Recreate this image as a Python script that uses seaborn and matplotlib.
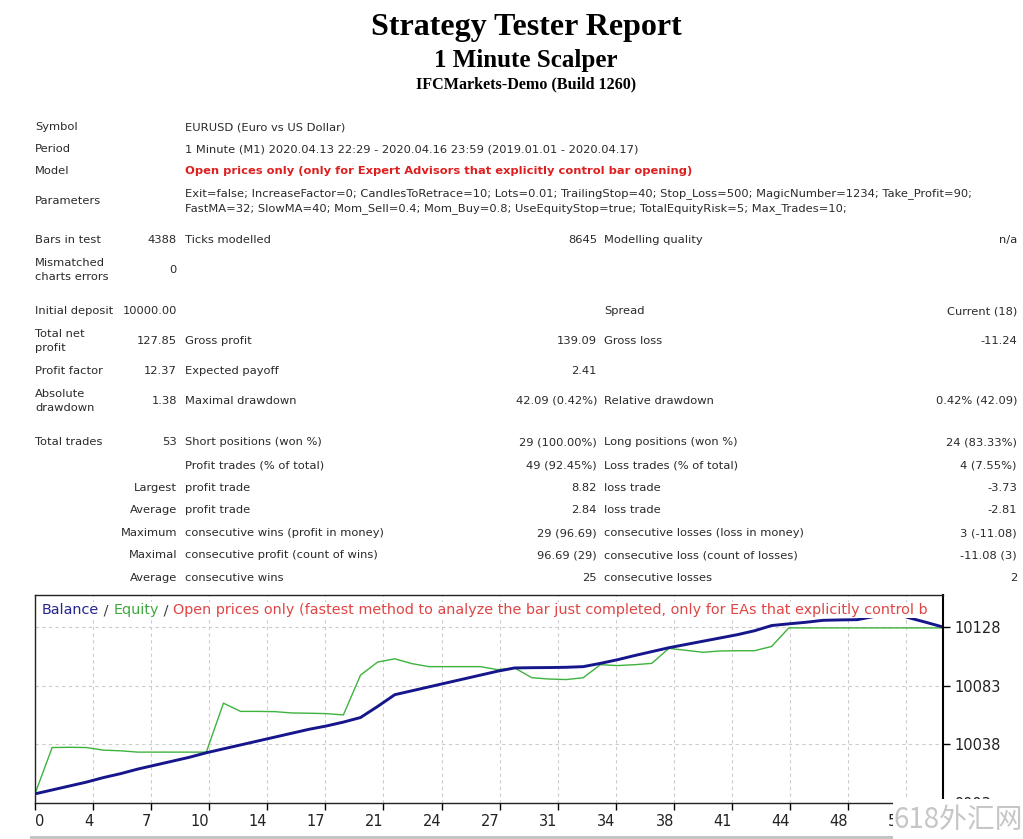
import matplotlib
matplotlib.use('Agg')
import matplotlib.pyplot as plt
import seaborn as sns
import numpy as np
import pandas as pd
from matplotlib.patches import Rectangle
from matplotlib.transforms import IdentityTransform

# balance / equity after each trade
trades = list(range(54))
balance = [10000, 10003, 10006, 10009, 10012.5, 10015.5, 10019, 10022, 10025, 10028,
           10031.5, 10034.5, 10037.5, 10040.5, 10043.5, 10046.5, 10049.5, 10052, 10055, 10058.5,
           10067, 10076, 10079, 10082, 10085, 10088, 10091, 10094, 10096.5, 10096.7,
           10096.8, 10097, 10097.5, 10100, 10102.8, 10106, 10109, 10112, 10114.5, 10117,
           10119.5, 10122, 10125, 10129, 10130.3, 10131.5, 10133, 10133.3, 10133.5, 10136,
           10139, 10135, 10131.5, 10127.85]
equity = [10000, 10035.5, 10035.7, 10035.5, 10033.5, 10033, 10032, 10032, 10032, 10032,
          10032, 10069.5, 10063.2, 10063.2, 10063, 10062, 10061.8, 10061.5, 10060.5, 10091,
          10101, 10103.5, 10099.8, 10097.5, 10097.5, 10097.5, 10097.5, 10095.2, 10096.5, 10089,
          10088, 10087.6, 10089, 10099, 10098.3, 10099, 10100, 10111.5, 10110, 10108.5,
          10109.5, 10109.7, 10109.7, 10113, 10127.2, 10127.2, 10127.2, 10127.2, 10127.2, 10127.2,
          10127.2, 10127.2, 10127.2, 10127.2]
xtick_labels = ['0', '4', '7', '10', '14', '17', '21', '24', '27', '31', '34', '38', '41', '44', '48', '51']
ytick_values = [9993, 10038, 10083, 10128]

# report header + info block
header = ['Strategy Tester Report', '1 Minute Scalper', 'IFCMarkets-Demo (Build 1260)']
info_labels = ['Symbol', 'Period', 'Model', 'Parameters']
info_values = [
    'EURUSD (Euro vs US Dollar)',
    '1 Minute (M1) 2020.04.13 22:29 - 2020.04.16 23:59 (2019.01.01 - 2020.04.17)',
    'Open prices only (only for Expert Advisors that explicitly control bar opening)',
    'Exit=false; IncreaseFactor=0; CandlesToRetrace=10; Lots=0.01; TrailingStop=40; Stop_Loss=500; '
    'MagicNumber=1234; Take_Profit=90;\nFastMA=32; SlowMA=40; Mom_Sell=0.4; Mom_Buy=0.8; '
    'UseEquityStop=true; TotalEquityRisk=5; Max_Trades=10;',
]

# stats table: label, value, label, value, label, value
stats = [
    ['Bars in test', '4388', 'Ticks modelled', '8645', 'Modelling quality', 'n/a'],
    ['Mismatched\ncharts errors', '0', '', '', '', ''],
    ['Initial deposit', '10000.00', '', '', 'Spread', 'Current (18)'],
    ['Total net\nprofit', '127.85', 'Gross profit', '139.09', 'Gross loss', '-11.24'],
    ['Profit factor', '12.37', 'Expected payoff', '2.41', '', ''],
    ['Absolute\ndrawdown', '1.38', 'Maximal drawdown', '42.09 (0.42%)', 'Relative drawdown', '0.42% (42.09)'],
    ['Total trades', '53', 'Short positions (won %)', '29 (100.00%)', 'Long positions (won %)', '24 (83.33%)'],
    ['', '', 'Profit trades (% of total)', '49 (92.45%)', 'Loss trades (% of total)', '4 (7.55%)'],
    ['', 'Largest', 'profit trade', '8.82', 'loss trade', '-3.73'],
    ['', 'Average', 'profit trade', '2.84', 'loss trade', '-2.81'],
    ['', 'Maximum', 'consecutive wins (profit in money)', '29 (96.69)', 'consecutive losses (loss in money)', '3 (-11.08)'],
    ['', 'Maximal', 'consecutive profit (count of wins)', '96.69 (29)', 'consecutive loss (count of losses)', '-11.08 (3)'],
    ['', 'Average', 'consecutive wins', '25', 'consecutive losses', '2'],
]
info_y = [127, 149, 171, 201]
stats_y = [240, 270, 311, 341, 371, 401, 442, 465, 488, 510, 533, 555, 578]
col_x = [35, 177, 185, 597, 604, 1017]
col_ha = ['left', 'right', 'left', 'right', 'left', 'right']

sns.set_theme(style='white')
plt.rcParams['font.family'] = ['DejaVu Sans']

W, H = 1023, 839
fig = plt.figure(figsize=(W / 100, H / 100), dpi=100)
fig.patch.set_facecolor('white')
TXT = '#2a2a2a'
TFONT = 8.25


def put(x, y, s, ha='left', size=TFONT, **kw):
    kw.setdefault('color', TXT)
    fig.text(x / W, 1 - y / H, s, ha=ha, va='center', fontsize=size, **kw)


serif = dict(family='Liberation Serif', weight='bold', color='black')
put(526, 27, header[0], ha='center', size=23, **serif)
put(526, 60, header[1], ha='center', size=18, **serif)
put(526, 84, header[2], ha='center', size=11.6, **serif)

for lab, val, y in zip(info_labels, info_values, info_y):
    put(35, y, lab)
    if lab == 'Model':
        put(185, y, val, color='#dd1f1f', weight='bold')
    else:
        put(185, y, val, linespacing=1.45)

for row, y in zip(stats, stats_y):
    for s, x, ha in zip(row, col_x, col_ha):
        if s:
            put(x, y, s, ha=ha, linespacing=1.5)

# ---- balance / equity graph
ax = fig.add_axes([35 / W, 1 - 803 / H, 908 / W, 208 / H])
df = pd.DataFrame({'trade': trades, 'balance': balance, 'equity': equity})
sns.lineplot(data=df, x='trade', y='equity', color='#3db33d', lw=1.0, ax=ax)
sns.lineplot(data=df, x='trade', y='balance', color='#16168c', lw=2.1, ax=ax)
ax.set_xlim(0, 53)
ax.set_ylim(9993.5, 10152.4)
ax.set_xlabel('')
ax.set_ylabel('')
ax.set_xticks(np.arange(len(xtick_labels)) * 3.39, xtick_labels)
ax.set_yticks(ytick_values, [str(v) for v in ytick_values])
ax.yaxis.tick_right()
ax.tick_params(axis='both', direction='out', length=5, width=1, colors='black',
               labelsize=10.5, labelcolor='#222222', bottom=True, right=True, left=False, pad=3)
for i, t in enumerate(ax.get_xticklabels()):
    t.set_ha('left' if i == 0 else 'right')
ax.grid(True, color='#cccccc', lw=0.8, ls=(0, (3, 3)))
for sp in ax.spines.values():
    sp.set_visible(True)
    sp.set_color('#222222')
    sp.set_linewidth(1.0)
ax.spines['right'].set_linewidth(1.5)
ax.spines['right'].set_color('black')

# coloured caption along the top of the graph (the report cuts it at the frame)
renderer = fig.canvas.get_renderer()
parts = [('Balance', '#24248f'), (' / ', '#404040'), ('Equity', '#3fa83f'), (' / ', '#404040'),
         ('Open prices only (fastest method to analyze the bar just completed, only for EAs that '
          'explicitly control b', '#e04545')]
xx = 42
for s, c in parts:
    t = ax.text(xx, H - 610, s, transform=IdentityTransform(), color=c, fontsize=10.4,
                va='center', ha='left', clip_on=True, zorder=5,
                bbox=dict(facecolor='white', edgecolor='none', pad=0.5))
    xx += t.get_window_extent(renderer).width

# watermark box and bottom strip
fig.add_artist(Rectangle((30 / W, 0), 863 / W, 3 / H, transform=fig.transFigure,
                         facecolor='#c4c4c4', edgecolor='none', zorder=4))
fig.add_artist(Rectangle((893 / W, 0), 130 / W, 40 / H, transform=fig.transFigure,
                         facecolor='white', edgecolor='none', zorder=5))
fig.text(958 / W, 1 - 820 / H, '618外汇网', ha='center', va='center', fontsize=20,
         color='#c6c6c6', family=['Noto Sans CJK SC', 'DejaVu Sans'], zorder=6)

fig.savefig('out.png', dpi=100, facecolor='white')
